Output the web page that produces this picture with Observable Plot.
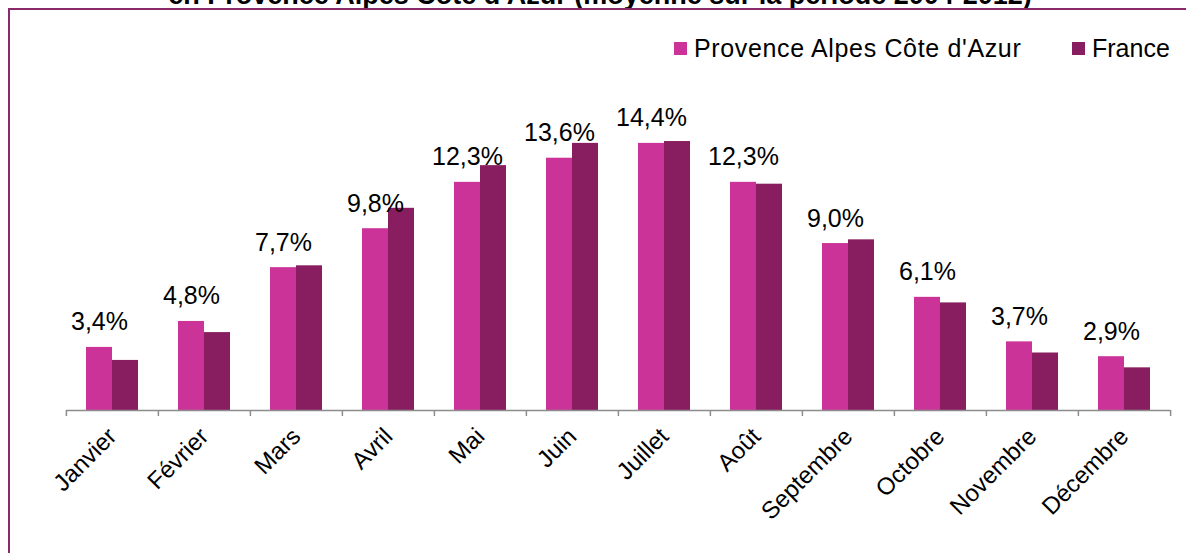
<!DOCTYPE html>
<html>
<head>
<meta charset="utf-8">
<script src="https://cdn.jsdelivr.net/npm/d3@7"></script>
<script src="https://cdn.jsdelivr.net/npm/@observablehq/plot@0.6"></script>
<style>
  html, body { margin: 0; padding: 0; background: #fff; }
  #wrap { position: relative; width: 1186px; height: 553px; overflow: hidden; font-family: "Liberation Sans", Arial, sans-serif; }
  #title { position: absolute; left: 0; width: 1200px; top: -20px; text-align: center; font-weight: bold; font-size: 27px; color: #000; white-space: nowrap; }
  #frame { position: absolute; left: 8px; top: 8px; width: 1300px; height: 700px; border-left: 2px solid #8a2a6b; border-top: 2px solid #8a2a6b; }
  #chart { position: absolute; left: 0; top: 0; }
  .leg { position: absolute; top: 34px; display: flex; align-items: center; font-size: 25px; color: #000; white-space: nowrap; }
  .leg .sw { width: 13px; height: 13px; margin-right: 7px; }
</style>
</head>
<body>
<div id="wrap">
  <div id="title"></div>
  <div id="frame"></div>
  <div id="chart"></div>
  <div id="legend"></div>
</div>
<script>
const titleText = "en Provence Alpes Côte d'Azur (moyenne sur la période 2004-2012)";
const months = ["Janvier","Février","Mars","Avril","Mai","Juin","Juillet","Août","Septembre","Octobre","Novembre","Décembre"];
const series = ["Provence Alpes Côte d'Azur", "France"];
const paca = [3.4, 4.8, 7.7, 9.8, 12.3, 13.6, 14.4, 12.3, 9.0, 6.1, 3.7, 2.9];
const france = [2.7, 4.2, 7.8, 10.9, 13.2, 14.4, 14.5, 12.2, 9.2, 5.8, 3.1, 2.3];
const colors = ["#cc3399", "#881e60"];

const data = [];
months.forEach((m, i) => {
  data.push({month: m, series: series[0], value: paca[i]});
  data.push({month: m, series: series[1], value: france[i]});
});
const fmt = v => d3.format(".1f")(v).replace(".", ",") + "%";

document.getElementById("title").textContent = titleText;

const W = 1186, H = 553, ML = 64, MR = 15;
const bw = (W - ML - MR) / months.length;

const plot = Plot.plot({
  width: W, height: H,
  marginLeft: ML, marginRight: MR, marginTop: 39, marginBottom: 143,
  style: {fontFamily: "Liberation Sans, Arial, sans-serif", background: "transparent"},
  fx: {domain: months, padding: 0, label: null},
  x: {domain: series, paddingInner: 0, paddingOuter: 0.755, axis: null},
  y: {domain: [0, 20], axis: null},
  color: {domain: series, range: colors},
  marks: [
    Plot.barY(data, {fx: "month", x: "series", y: "value", fill: "series"}),
    Plot.ruleY([0], {stroke: "#8c8c8c", strokeWidth: 1.5}),
    Plot.text(data.filter(d => d.series === series[0]), {
      fx: "month", x: "series", y: "value", text: d => fmt(d.value),
      lineAnchor: "bottom", dy: -17, fontSize: 25, fill: "#000"
    }),
    Plot.axisFx({anchor: "bottom", tickSize: 0, tickRotate: -45, tickPadding: 22, fontSize: 24, fill: "#000", label: null}),
    Plot.axisFx({anchor: "bottom", tickSize: 6, tickFormat: () => "", dx: -bw / 2, stroke: "#8c8c8c", strokeWidth: 1.5, label: null}),
    Plot.axisFx({anchor: "bottom", ticks: [months[months.length - 1]], tickSize: 6, tickFormat: () => "", dx: bw / 2, stroke: "#8c8c8c", strokeWidth: 1.5, label: null})
  ]
});
document.getElementById("chart").appendChild(plot);

const legendPos = [674, 1072];
const legend = document.getElementById("legend");
series.forEach((s, i) => {
  const item = document.createElement("div");
  item.className = "leg";
  item.style.left = legendPos[i] + "px";
  if (i === 0) item.style.letterSpacing = "0.65px";
  const sw = document.createElement("div");
  sw.className = "sw";
  sw.style.background = colors[i];
  const label = document.createElement("span");
  label.textContent = s;
  item.appendChild(sw);
  item.appendChild(label);
  legend.appendChild(item);
});
</script>
</body>
</html>
